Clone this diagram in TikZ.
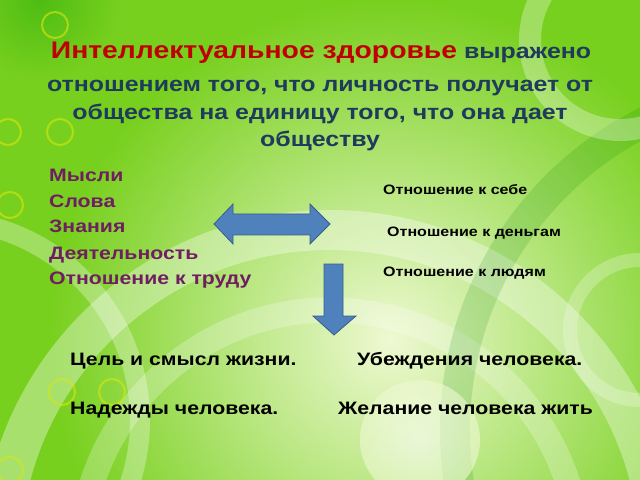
\documentclass[tikz,border=0pt]{standalone}
\usepackage{fontspec}
\setmainfont{Liberation Sans}[FakeStretch=1.18]
\definecolor{fondvert}{RGB}{120,208,30}
\definecolor{fondclair}{RGB}{238,249,210}
\definecolor{rouge}{RGB}{192,0,0}
\definecolor{bleutexte}{RGB}{31,58,92}
\definecolor{violet}{RGB}{112,30,98}
\definecolor{bleufleche}{RGB}{79,129,189}
\definecolor{bordfleche}{RGB}{56,93,138}

\begin{document}
\begin{tikzpicture}[x=1bp,y=-1bp,
  titre/.style={anchor=base, inner sep=0pt, text=bleutexte,
    font=\bfseries\fontsize{21.1bp}{25bp}\selectfont},
  liste/.style={anchor=base west, inner sep=0pt, text=violet,
    font=\bfseries\fontsize{18bp}{20bp}\selectfont},
  relation/.style={anchor=base west, inner sep=0pt,
    font=\bfseries\fontsize{13.6bp}{16bp}\selectfont},
  bilan/.style={anchor=base west, inner sep=0pt,
    font=\bfseries\fontsize{18bp}{20bp}\selectfont},
  fleche/.style={fill=bleufleche, draw=bordfleche, line width=0.8bp, line join=miter}]

\useasboundingbox (0,0) rectangle (640,480);

% Fond
\fill[fondvert] (0,0) rectangle (640,480);
\shade[inner color=fondclair, outer color=fondvert] (390,340) circle (340);
\begin{scope}
\clip (0,0) rectangle (640,480);
\draw[white, opacity=0.35, line width=40bp] (330,560) circle (330);
\draw[white, opacity=0.25, line width=25bp] (330,560) circle (250);
\draw[green!50!black, opacity=0.15, line width=30bp] (800,430) circle (345);
\shade[inner color=white, outer color=fondclair, opacity=0.6] (420,440) circle (60);
\draw[white, opacity=0.3, line width=20bp] (-60,420) circle (200);
\draw[white, opacity=0.3, line width=22bp] (620,40) circle (90);
\draw[white, opacity=0.25, line width=14bp] (640,330) circle (70);
\shade[inner color=green!60!black, outer color=fondvert, opacity=0.35] (40,0) circle (80);
\foreach \cx/\cy in {55/25, 60/132, 8/132, 10/205, 62/392, 112/392, 10/470}
  \draw[yellow!85!green, opacity=0.6, line width=2bp] (\cx,\cy) circle (13);
\end{scope}

% Titre
\node[titre] (ligne1) at (321,59) {\textcolor{rouge}{\fontsize{24bp}{28bp}\selectfont Интеллектуальное здоровье} выражено};
\node[titre] (ligne2) at (320,92) {отношением того, что личность получает от};
\node[titre] (ligne3) at (320,120) {общества на единицу того, что она дает};
\node[titre] (ligne4) at (320,147) {обществу};

% Liste de gauche
\node[liste] (mysli) at (49,182) {Мысли};
\node[liste] (slova) at (49,208) {Слова};
\node[liste] (znania) at (49,233) {Знания};
\node[liste] (deyat) at (49,259) {Деятельность};
\node[liste] (trud) at (49,284) {Отношение к труду};

% Relations
\node[relation] (sebe) at (383,195) {Отношение к себе};
\node[relation] (dengi) at (387,237) {Отношение к деньгам};
\node[relation] (lyudi) at (383,276) {Отношение к людям};

% Flèches
\filldraw[fleche] (214,224) -- (233,204) -- (233,214) -- (310,214) -- (310,204)
  -- (330,224) -- (310,244) -- (310,235) -- (233,235) -- (233,244) -- cycle;
\filldraw[fleche] (324,264) -- (343,264) -- (343,316) -- (356,316) -- (334,335)
  -- (313,316) -- (324,316) -- cycle;

% Conclusions
\node[bilan] (cel) at (70,365) {Цель и смысл жизни.};
\node[bilan] (ubezh) at (357,365) {Убеждения человека.};
\node[bilan] (nadezhdy) at (70,414) {Надежды человека.};
\node[bilan] (zhelanie) at (338,414) {Желание человека жить};

\end{tikzpicture}
\end{document}
